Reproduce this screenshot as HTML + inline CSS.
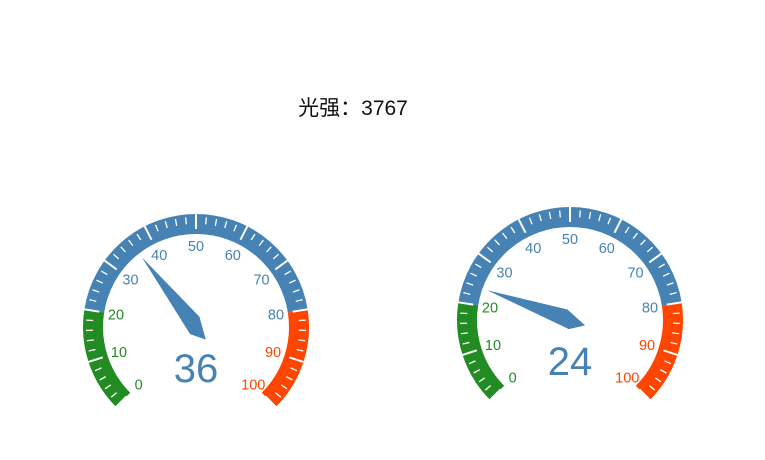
<!DOCTYPE html>
<html><head><meta charset="utf-8"><style>
html,body{margin:0;padding:0;background:#fff;}
#wrap{position:relative;width:765px;height:460px;overflow:hidden;}
#title{position:absolute;left:0;width:706px;top:92px;text-align:center;font:21px "Liberation Sans","Noto Sans CJK SC",sans-serif;color:#111;}
svg{position:absolute;left:0;top:0;}
</style></head><body>
<div id="wrap">
<div id="title">光强：3767</div>
<svg id="svg" width="765" height="460"></svg>
</div>
<script>
const gaugeValues = [36, 24];
const gaugeCenters = [[196,327],[570,320]];
const tickLabels = [0,10,20,30,40,50,60,70,80,90,100];
const bandStops = [0.2, 0.8, 1];
const bandColors = ['#228b22','#4682b4','#ff4500'];

const NS='http://www.w3.org/2000/svg';
const svg=document.getElementById('svg');
const R=113, W=20;
function ang(v){return (225-270*v/100)*Math.PI/180;}
function pt(cx,cy,r,a){return [cx+r*Math.cos(a), cy-r*Math.sin(a)];}
function colorFor(v){for(let i=0;i<bandStops.length;i++){if(v/100<=bandStops[i]+1e-9)return bandColors[i];}return bandColors[2];}
function mk(tag,attrs,parent){const e=document.createElementNS(NS,tag);for(const k in attrs)e.setAttribute(k,attrs[k]);(parent||svg).appendChild(e);return e;}

gaugeValues.forEach((val,gi)=>{
  const [cx,cy]=gaugeCenters[gi];
  const g=mk('g',{});
  
  
  let prev=0;
  bandStops.forEach((s,i)=>{
    const a0=ang(prev*100), a1=ang(s*100);
    const rm=R-W/2;
    const p0=pt(cx,cy,rm,a0), p1=pt(cx,cy,rm,a1);
    const large=(a0-a1)>Math.PI?1:0;
    const band=mk('path',{d:`M${p0[0]},${p0[1]} A${rm},${rm} 0 ${large} 1 ${p1[0]},${p1[1]}`,fill:'none',stroke:bandColors[i],'stroke-width':W},g);
    
    
    prev=s;
  });
  for(let k=0;k<=50;k++){
    const v=k*2, a=ang(v);
    const major=k%5===0;
    const p0=pt(cx,cy,major?R:R-3,a), p1=pt(cx,cy,major?R-15:R-10,a);
    mk('line',{x1:p0[0],y1:p0[1],x2:p1[0],y2:p1[1],stroke:'#fff','stroke-width':major?2:1.3},g);
  }
  tickLabels.forEach(t=>{
    const p=pt(cx,cy,81,ang(t));
    const tx=mk('text',{x:p[0],y:p[1]+5,'text-anchor':'middle',fill:colorFor(t),'font-size':14.5,'font-family':'Liberation Sans, sans-serif'},g);
    tx.textContent=t;
    
    
  });
  const a=ang(val), ux=Math.cos(a), uy=-Math.sin(a), px=-uy, py=ux;
  const P=(u,w)=>[cx+u*ux+w*px, cy+u*uy+w*py].join(',');
  const needle=mk('polygon',{points:[P(88,0),P(6,9),P(-16,0),P(-2,-9)].join(' '),fill:'#4682b4'},g);
  
  
  const d=mk('text',{x:cx,y:cy+55,'text-anchor':'middle',fill:'#4682b4','font-size':40,'font-family':'Liberation Sans, sans-serif'},g);
  d.textContent=val;
  
  
});
</script>
</body></html>
